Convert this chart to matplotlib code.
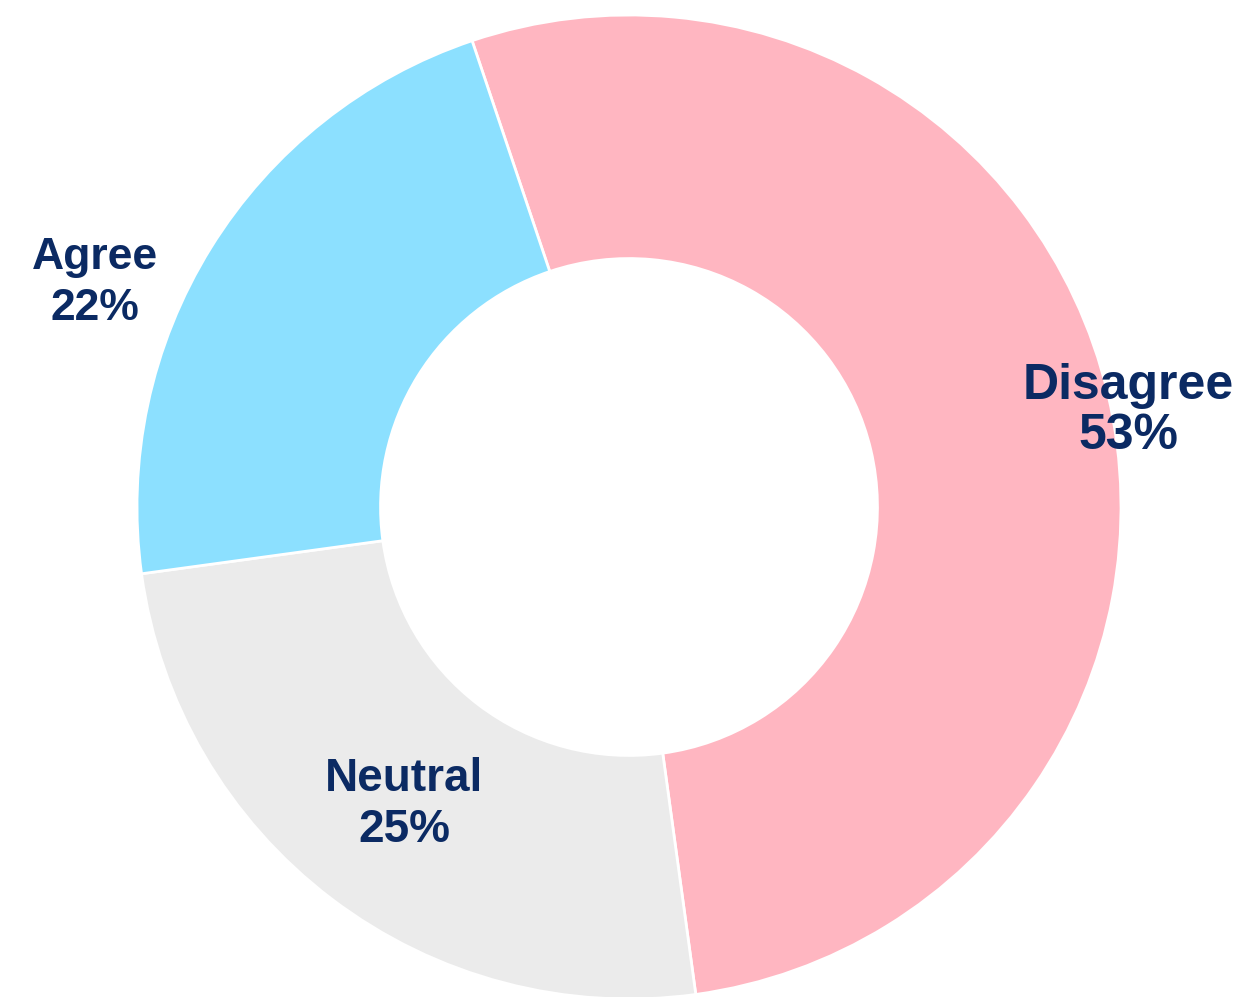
import matplotlib
matplotlib.use("Agg")
import matplotlib.pyplot as plt

# Survey response shares
categories = ["Disagree", "Neutral", "Agree"]
shares = [53, 25, 22]
colors = ["#FFB6C1", "#EBEBEB", "#8CE0FF"]
text_color = "#0B2A63"

# Label placement (x, y in axis units, font size, line spacing)
label_pos = {
    "Disagree": (1.015, 0.195, 36, 1.12),
    "Neutral": (-0.457, -0.605, 33, 1.2),
    "Agree": (-1.085, 0.455, 32, 1.3),
}

fig = plt.figure(figsize=(12.42, 9.97), dpi=100)
ax = fig.add_axes([0, 0, 1, 1])

wedges, _ = ax.pie(
    shares,
    colors=colors,
    startangle=108.6,
    counterclock=False,
    radius=1.0,
    wedgeprops=dict(width=0.495, edgecolor="white", linewidth=2),
)

for cat, val in zip(categories, shares):
    x, y, fs, ls = label_pos[cat]
    ax.text(x, y, f"{cat}\n{val}%", ha="center", va="center",
            fontsize=fs, fontweight="bold", color=text_color,
            family="Liberation Sans", linespacing=ls)

ax.set_xlim(-629 / 492, (1242 - 629) / 492)
ax.set_ylim((507 - 997) / 492, 507 / 492)
ax.set_aspect("equal")
ax.axis("off")

fig.savefig("out.png", dpi=100, facecolor="white")
